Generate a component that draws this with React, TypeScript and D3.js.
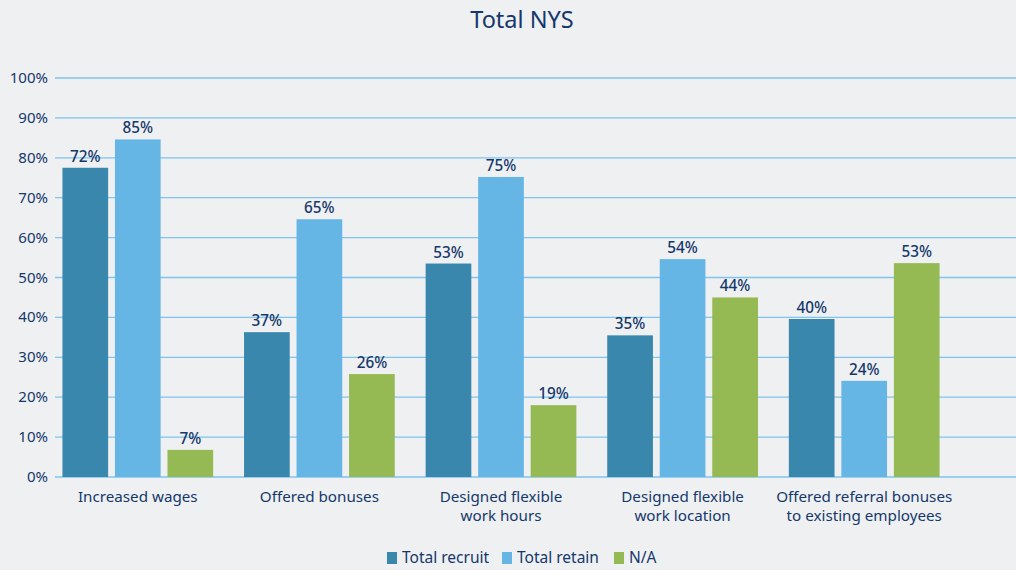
import React from "react";
import { scaleBand, scaleLinear } from "d3";

const categories = [
  ["Increased wages"],
  ["Offered bonuses"],
  ["Designed flexible", "work hours"],
  ["Designed flexible", "work location"],
  ["Offered referral bonuses", "to existing employees"],
];
const seriesNames = ["Total recruit", "Total retain", "N/A"];
const colors = ["#3a87ad", "#65b5e5", "#95b953"];

// bar heights as drawn in the source (the first recruit bar is taller than its label says)
const recruit = [77.5, 36.3, 53.5, 35.5, 39.6];
const retain = [84.6, 64.6, 75.2, 54.6, 24.1];
const na = [6.8, 25.8, 18, 45, 53.6];
const recruitLabels = ["72%", "37%", "53%", "35%", "40%"];
const retainLabels = ["85%", "65%", "75%", "54%", "24%"];
const naLabels = ["7%", "26%", "19%", "44%", "53%"];
const yTicks = [0, 10, 20, 30, 40, 50, 60, 70, 80, 90, 100];

const W = 1016;
const H = 570;
const navy = "#15386b";
const font = "'Noto Sans', 'Open Sans', sans-serif";

export default function App() {
  const values = [recruit, retain, na];
  const labels = [recruitLabels, retainLabels, naLabels];
  const keys = categories.map((c) => c.join(" "));

  const x0 = scaleBand<string>().domain(keys).range([47, 955]).paddingInner(0.17).paddingOuter(0.085);
  const x1 = scaleBand<string>().domain(seriesNames).range([0, x0.bandwidth()]).paddingInner(0.13);
  const y = scaleLinear().domain([0, 100]).range([477, 78]);

  const legendX = [387, 502, 614];

  return (
    <svg width={W} height={H} style={{ position: "absolute", left: 0, top: 0, background: "#eff0f2" }} fontFamily={font}>
      <rect width={W} height={H} fill="#eff0f2" />
      <text x={522} y={28} textAnchor="middle" fontSize={23.5} fill={navy}>Total NYS</text>

      {yTicks.map((t) => (
        <g key={t}>
          <line x1={55} x2={W} y1={y(t)} y2={y(t)} stroke="#7ec4ee" strokeWidth={1.3} />
          <text x={48} y={y(t) + 5} textAnchor="end" fontSize={15} fill={navy}>{t}%</text>
        </g>
      ))}

      {keys.map((k, i) => (
        <g key={k} transform={`translate(${x0(k)},0)`}>
          {seriesNames.map((s, j) => {
            const v = values[j][i];
            const bx = x1(s)!;
            return (
              <g key={s}>
                <rect x={bx} y={y(v)} width={x1.bandwidth()} height={y(0) - y(v)} fill={colors[j]} />
                <text x={bx + x1.bandwidth() / 2} y={y(v) - 6} textAnchor="middle" fontSize={15.3} fontWeight={500} fill={navy}>
                  {labels[j][i]}
                </text>
              </g>
            );
          })}
          {categories[i].map((line, li) => (
            <text key={li} x={x0.bandwidth() / 2} y={502 + li * 19} textAnchor="middle" fontSize={15.2} fill={navy}>
              {line}
            </text>
          ))}
        </g>
      ))}

      {seriesNames.map((s, j) => (
        <g key={s}>
          <rect x={legendX[j]} y={552} width={10} height={12} fill={colors[j]} />
          <text x={legendX[j] + 15} y={563} fontSize={15.5} fill={navy}>{s}</text>
        </g>
      ))}
    </svg>
  );
}
